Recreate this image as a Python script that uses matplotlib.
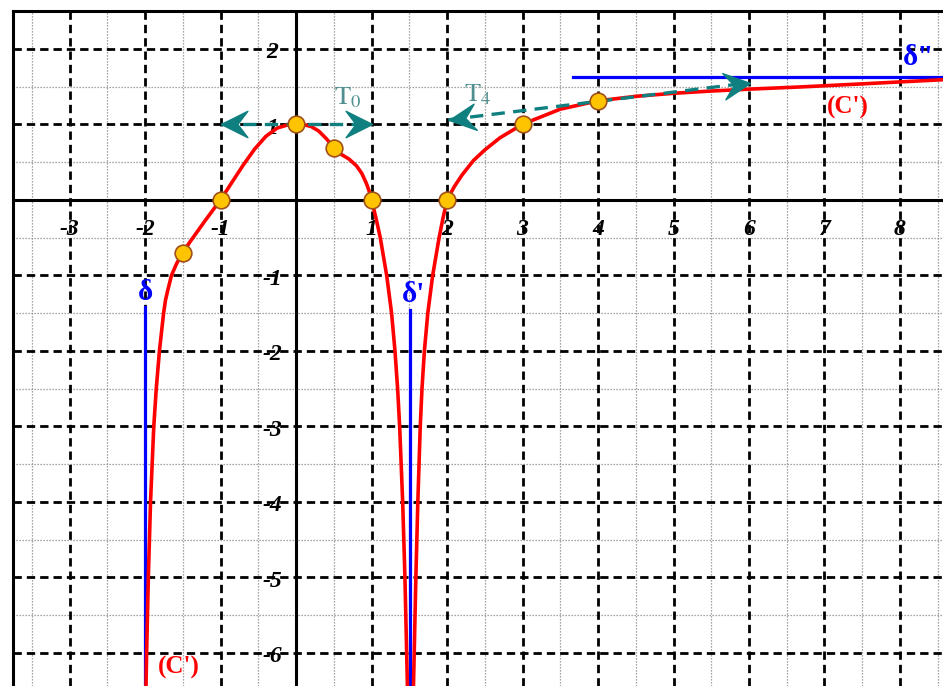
import numpy as np
import matplotlib
matplotlib.use("Agg")
import matplotlib.pyplot as plt
from matplotlib.path import Path
from matplotlib.markers import MarkerStyle
from matplotlib.transforms import Affine2D

plt.rcParams['mathtext.fontset'] = 'stix'

# --- Data ---
# branch left of delta' (x < 1.5)
cx_left = [-1.988, -1.98, -1.957, -1.928, -1.885, -1.852, -1.81, -1.755, -1.73, -1.70, -1.65,
           -1.58, -1.5, -1.4, -1.3, -1.2, -1.1, -1.0, -0.85, -0.7, -0.55, -0.4, -0.25, -0.1,
           0.0, 0.1, 0.2, 0.3, 0.4, 0.5, 0.6, 0.7, 0.8, 0.87, 0.93, 0.97, 1.0, 1.06, 1.115,
           1.2, 1.265, 1.31, 1.345, 1.372, 1.412, 1.442, 1.465, 1.475]
cy_left = [-6.44, -6.0, -5.0, -4.0, -3.0, -2.5, -2.0, -1.5, -1.33, -1.2, -1.0,
           -0.84, -0.70, -0.55, -0.41, -0.27, -0.135, 0.0, 0.23, 0.46, 0.67, 0.84, 0.95, 0.995,
           1.0, 0.995, 0.97, 0.91, 0.81, 0.69, 0.60, 0.54, 0.45, 0.35, 0.22, 0.11, 0.0, -0.25, -0.5,
           -1.0, -1.5, -2.0, -2.5, -3.0, -4.0, -5.0, -6.0, -6.44]
# branch right of delta'
cx_right = [1.555, 1.565, 1.587, 1.613, 1.645, 1.668, 1.70, 1.745, 1.81, 1.895, 1.945, 2.0,
            2.1, 2.2, 2.35, 2.5, 2.7, 3.0, 3.5, 4.0, 4.5, 5.0, 5.5, 6.0, 6.7, 7.5, 8.57]
cy_right = [-6.44, -6.0, -5.0, -4.0, -3.0, -2.5, -2.0, -1.5, -1.0, -0.5, -0.25, 0.0,
            0.18, 0.33, 0.52, 0.66, 0.82, 1.0, 1.2, 1.31, 1.37, 1.41, 1.44, 1.465, 1.495, 1.535, 1.59]

pts_x = [-1.5, -1, 0, 0.5, 1, 2, 3, 4]
pts_y = [-0.7, 0, 1, 0.69, 0, 0, 1, 1.31]

# asymptotes
delta_x, delta_top = -2.0, -1.42
delta1_x, delta1_top = 1.51, -1.46
delta2_y, delta2_left = 1.63, 3.67

# tangents
t0_x = [-1.0, 1.0]
t0_y = [1.0, 1.0]
t4_x = [2.02, 6.01]
t4_y = [1.06, 1.55]

xticks = [-3, -2, -1, 1, 2, 3, 4, 5, 6, 7, 8]
yticks = [2, 1, -1, -2, -3, -4, -5, -6]

xmin, xmax = -3.75, 8.57
ymin, ymax = -6.44, 2.5

teal = '#0f7f7f'
tick_font = dict(family='Liberation Serif', weight='bold', style='italic', size=17)

fig = plt.figure(figsize=(9.43, 6.86), dpi=100)
ax = fig.add_axes([13 / 943, 0, 930 / 943, 675 / 686])
ax.set_xlim(xmin, xmax)
ax.set_ylim(ymin, ymax)
ax.set_xticks([])
ax.set_yticks([])
for s in ['right', 'bottom']:
    ax.spines[s].set_visible(False)
for s in ['left', 'top']:
    ax.spines[s].set_linewidth(2.2)

# --- Grid ---
for v in np.arange(-3.5, 9, 1.0):
    ax.axvline(v, color='#888888', lw=0.9, ls=(0, (1, 1.4)), zorder=1)
for v in np.arange(-6.5, 3, 1.0):
    ax.axhline(v, color='#888888', lw=0.9, ls=(0, (1, 1.4)), zorder=1)
for v in range(-3, 9):
    if v != 0:
        ax.axvline(v, color='black', lw=2, ls=(0, (3, 1.8)), zorder=2)
for v in range(-6, 3):
    if v != 0:
        ax.axhline(v, color='black', lw=2, ls=(0, (3, 1.8)), zorder=2)
ax.axvline(0, color='black', lw=2.2, zorder=3)
ax.axhline(0, color='black', lw=2.2, zorder=3)

for v in xticks:
    ax.text(v, -0.4, str(v), ha='center', va='center', zorder=4, **tick_font)
for v in yticks:
    ax.text(-0.32, v - 0.05, str(v), ha='center', va='center', zorder=4, **tick_font)

# --- Asymptotes ---
ax.plot([delta_x, delta_x], [delta_top, ymin], color='#0000ff', lw=2.3, zorder=5)
ax.plot([delta1_x, delta1_x], [delta1_top, ymin], color='#0000ff', lw=2.3, zorder=5)
ax.plot([delta2_left, xmax], [delta2_y, delta2_y], color='#0000ff', lw=2.3, zorder=5)
dfont = dict(family='Liberation Serif', weight='bold', size=21, color='#0000ff', ha='center', va='center')
ax.text(-2.0, -1.23, 'δ', **dfont)
ax.text(1.55, -1.26, "δ'", **dfont)
ax.text(8.24, 1.89, 'δ"', **dfont)

# --- Curve ---
ax.plot(cx_left, cy_left, color='#ff0000', lw=2.6, zorder=6, solid_capstyle='butt')
ax.plot(cx_right, cy_right, color='#ff0000', lw=2.6, zorder=6, solid_capstyle='butt')
cfont = dict(family='Liberation Serif', weight='bold', size=18, color='#ff0000', ha='center', va='center')
ax.text(7.31, 1.22, "(C')", **cfont)
ax.text(-1.56, -6.19, "(C')", **cfont)

# --- Tangents ---
head = Path([(0, 0), (-1, 0.5), (-0.62, 0), (-1, -0.5), (0, 0)],
            [Path.MOVETO, Path.LINETO, Path.LINETO, Path.LINETO, Path.CLOSEPOLY])


def tangent(xs, ys):
    ax.plot(xs, ys, color=teal, lw=2.4, ls=(0, (4, 2.5)), zorder=7)
    p0 = ax.transData.transform((xs[0], ys[0]))
    p1 = ax.transData.transform((xs[1], ys[1]))
    ang = np.degrees(np.arctan2(p1[1] - p0[1], p1[0] - p0[0]))
    for x, y, a in [(xs[1], ys[1], ang), (xs[0], ys[0], ang + 180)]:
        m = MarkerStyle(head, transform=Affine2D().rotate_deg(a))
        ax.plot([x], [y], marker=m, ms=38, color=teal, mec=teal, lw=0, zorder=8)


tangent(t0_x, t0_y)
tangent(t4_x, t4_y)
ax.text(0.68, 1.36, r'$\mathrm{T}_0$', fontsize=19, color='#4f8f8f', ha='center', va='center')
ax.text(2.41, 1.39, r'$\mathrm{T}_4$', fontsize=19, color='#4f8f8f', ha='center', va='center')

# --- Points ---
ax.plot(pts_x, pts_y, 'o', ms=12, mfc='#ffc400', mec='#a0501a', mew=1.2, zorder=9)

fig.savefig('out.png', dpi=100)
